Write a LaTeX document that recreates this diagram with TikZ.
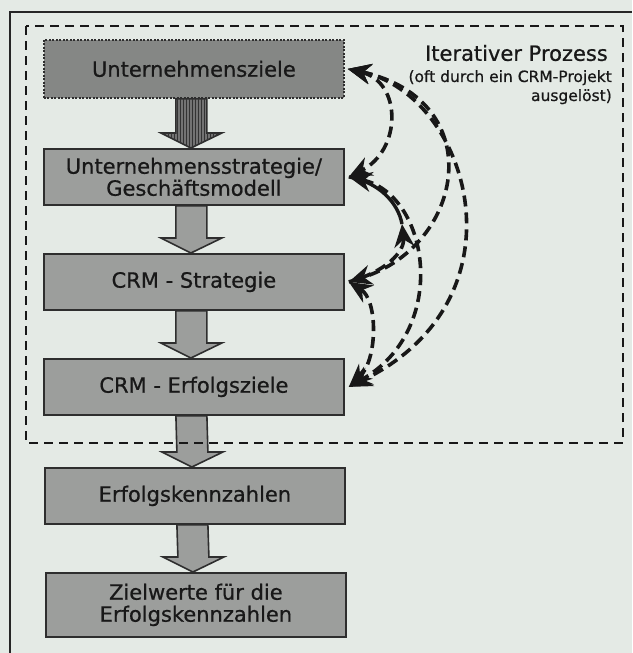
\documentclass[tikz,border=0pt]{standalone}
\usepackage{fontspec}
\setmainfont{DejaVu Sans}[FakeBold=0.7]
\usetikzlibrary{arrows.meta,calc,patterns}
\definecolor{bg}{HTML}{E4EAE5}
\definecolor{boxfill}{HTML}{9C9E9C}
\definecolor{boxdark}{HTML}{858785}
\definecolor{edge}{HTML}{2E2E2E}
\definecolor{ink}{HTML}{181818}
\newcommand\blockarr[3]{%
  \filldraw[#1] ($(#2.south)+(-18,0)$) -- ($(#3.north)+(-18,-15)$) -- ($(#3.north)+(-33,-15)$)
   -- ($(#3.north)+(-3,0)$) -- ($(#3.north)+(28,-15)$) -- ($(#3.north)+(13,-15)$)
   -- ($(#2.south)+(13,0)$) -- cycle;}
\begin{document}
\begin{tikzpicture}[x=1pt,y=-1pt,
  box/.style={draw=edge, line width=1.8pt, fill=boxfill, minimum width=300pt,
    minimum height=56pt, inner sep=0pt, align=center, text=ink,
    font=\fontsize{21}{22}\selectfont, anchor=north west},
  barrow/.style={draw=edge, line width=1.6pt, fill=boxfill},
  barrowdark/.style={draw=edge, line width=1.6pt, fill=black!55,
    postaction={pattern=vertical lines, pattern color=black!80}},
  head/.tip={Stealth[length=23pt,width=20pt]},
  iter/.style={draw=ink, line width=3.6pt, dash pattern=on 11pt off 6pt, head-head},
  itersolid/.style={draw=ink, line width=3.4pt},
  frameline/.style={draw=black!85, line width=2.4pt},
  dashframe/.style={draw=ink, line width=2.6pt, dash pattern=on 9pt off 6pt}]
\fill[bg] (0,0) rectangle (632,653);
\useasboundingbox (0,0) rectangle (632,653);

% outer solid frame
\draw[frameline] (10,653) -- (10,12) -- (632,12);

% boxes
\node[box, fill=boxdark, minimum height=58pt, dash pattern=on 2pt off 1.5pt] (b1) at (43,39) {Unternehmensziele};
\node[box] (b2) at (43,148) {Unternehmensstrategie/\\Geschäftsmodell};
\node[box] (b3) at (43,253) {CRM - Strategie};
\node[box] (b4) at (43,358) {CRM - Erfolgsziele};
\node[box] (b5) at (44,467) {Erfolgskennzahlen};
\node[box, minimum height=64pt] (b6) at (45,572) {Zielwerte für die\\Erfolgskennzahlen};

% block arrows
\blockarr{barrowdark}{b1}{b2}
\blockarr{barrow}{b2}{b3}
\blockarr{barrow}{b3}{b4}
\blockarr{barrow}{b4}{b5}
\blockarr{barrow}{b5}{b6}

% dashed frame
\draw[dashframe] (26,26) rectangle (623,443);

% title
\node[anchor=east, inner sep=0pt, text=ink, font=\fontsize{21}{22}\selectfont] (t1) at (608,53) {Iterativer Prozess};
\node[anchor=north east, inner sep=0pt, align=right, text=ink, font=\fontsize{15.5}{19}\selectfont] (t2) at (612,70) {(oft durch ein CRM-Projekt\\ausgelöst)};

% iterative connectors
\coordinate (p1) at ($(b1.east)+(3,0)$);
\coordinate (p2) at ($(b2.east)+(4,0)$);
\coordinate (p3) at ($(b3.east)+(4,0)$);
\coordinate (p4) at ($(b4.east)+(4,0)$);
\coordinate (c23) at (402,224);
\draw[iter] (p1) .. controls (402,82) and (402,150) .. (p2);
\draw[iter] (p1) .. controls (490,100) and (465,245) .. (p3);
\draw[iter] (p1) .. controls (470,95) and (530,300) .. (p4);
\draw[itersolid] (p2) .. controls (378,182) and (398,202) .. (c23);
\draw[iter, head-] (c23) .. controls (405,252) and (385,272) .. (p3);
\draw[iter] (p2) .. controls (430,195) and (450,330) .. (p4);
\draw[iter] (p3) .. controls (378,300) and (378,360) .. (p4);
\end{tikzpicture}
\end{document}
